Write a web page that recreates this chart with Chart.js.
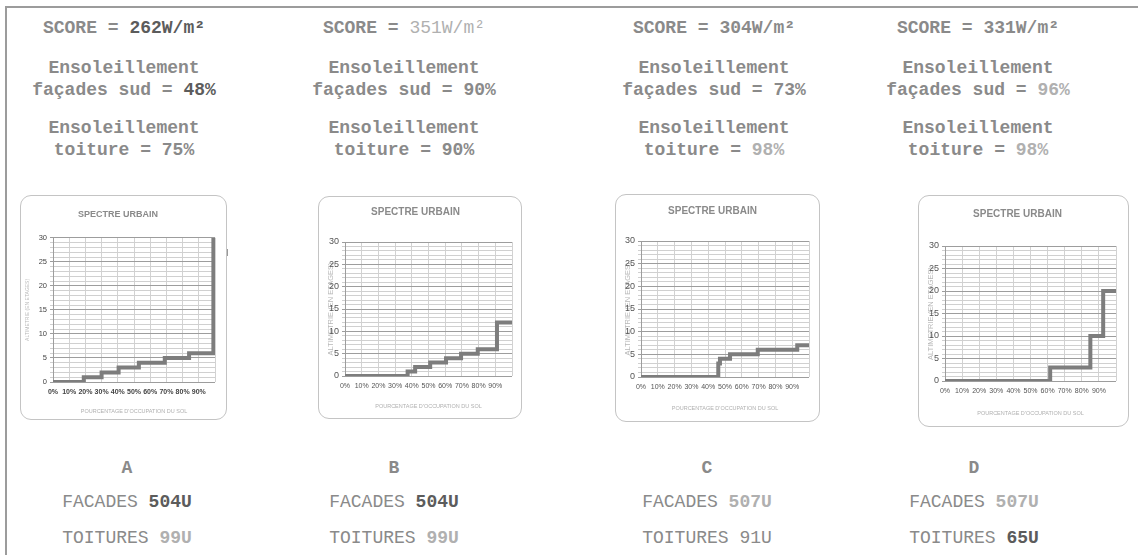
<!DOCTYPE html>
<html>
<head>
<meta charset="utf-8">
<script src="https://cdn.jsdelivr.net/npm/chart.js@4.4.1/dist/chart.umd.min.js"></script>
<style>
  body { margin: 0; width: 1138px; height: 555px; position: relative; background: #fff; overflow: hidden; }
  #frame { position: absolute; left: 5px; top: 6px; right: -3px; bottom: -3px; border-left: 2px solid #9c9c9c; border-top: 2px solid #9c9c9c; }
  .txt { position: absolute; width: 400px; text-align: center; line-height: 20px; height: 20px;
         font-family: "Liberation Mono", "Courier New", monospace; font-size: 18px; color: #8a8a8a; white-space: pre; }
  .b { font-weight: bold; }
  .dark { color: #5c5c5c; }
  .mid { color: #8a8a8a; }
  .light { color: #b0b0b0; }
  .box { position: absolute; border: 1px solid #c4c4c4; border-radius: 11px; background: #fff; }
  .box canvas { position: absolute; left: 0; top: 0; }
</style>
</head>
<body>
<div id="frame"></div>
<div style="position:absolute;left:227px;top:249px;width:1px;height:7px;background:#999"></div>

<div class="box" id="boxA" style="left:20px;top:195px;width:205px;height:223px"><canvas id="chartA"></canvas></div>
<div class="box" id="boxB" style="left:318px;top:196px;width:202px;height:221px"><canvas id="chartB"></canvas></div>
<div class="box" id="boxC" style="left:615px;top:194px;width:203px;height:226px"><canvas id="chartC"></canvas></div>
<div class="box" id="boxD" style="left:918px;top:195px;width:209px;height:230px"><canvas id="chartD"></canvas></div>

<script>
// panel values
const panels = ["A", "B", "C", "D"];
const scores = [262, 351, 304, 331];
const facadeSun = [48, 90, 73, 96];
const roofSun = [75, 90, 98, 98];
const facadeUnits = [504, 504, 507, 507];
const roofUnits = [99, 99, 91, 65];

// urban spectrum: occupation (%) where each height level (floors) starts
const occA = [0, 19, 30, 40.5, 53, 69, 84, 99];
const hA = [0, 1, 2, 3, 4, 5, 6, 30];
const occB = [0, 37.5, 42, 51, 60.5, 69.5, 79.5, 91, 100];
const hB = [0, 1, 2, 3, 4, 5, 6, 12, 12];
const occC = [0, 46, 47, 53, 69.5, 93, 100];
const hC = [0, 3, 4, 5, 6, 7, 7];
const occD = [0, 61.5, 85, 92.5, 100];
const hD = [0, 3, 10, 20, 20];

const yTicks = [0, 5, 10, 15, 20, 25, 30];
const xTicks = [0, 10, 20, 30, 40, 50, 60, 70, 80, 90];

// text emphasis (style only)
const scoreTone = ["dark b", "light", "mid b", "mid b"];
const facadeTone = ["dark b", "mid b", "mid b", "light b"];
const roofTone = ["mid b", "mid b", "light b", "light b"];
const unitsTone = ["dark b", "dark b", "light b", "light b"];
const roofUnitsTone = ["light b", "light b", "mid", "dark b"];

const topX = [124, 404, 714, 978];
const botX = [127, 394, 707, 974];

function line(cx, cy, html) {
    let d = document.createElement("div");
    d.className = "txt";
    d.style.left = (cx - 200) + "px";
    d.style.top = (cy - 10) + "px";
    d.innerHTML = html;
    document.body.appendChild(d);
}

panels.forEach((p, i) => {
    line(topX[i], 28, `<span class="b">SCORE = </span><span class="${scoreTone[i]}">${scores[i]}W/m²</span>`);
    line(topX[i], 68, `<span class="b">Ensoleillement</span>`);
    line(topX[i], 90, `<span class="b">façades sud = </span><span class="${facadeTone[i]}">${facadeSun[i]}%</span>`);
    line(topX[i], 128, `<span class="b">Ensoleillement</span>`);
    line(topX[i], 150, `<span class="b">toiture = </span><span class="${roofTone[i]}">${roofSun[i]}%</span>`);
    line(botX[i], 468, `<span class="b">${p}</span>`);
    line(botX[i], 502, `FACADES <span class="${unitsTone[i]}">${facadeUnits[i]}U</span>`);
    line(botX[i], 538, `TOITURES <span class="${roofUnitsTone[i]}">${roofUnits[i]}U</span>`);
});

function spectre(id, occ, h, lay) {
    let pts = occ.map((x, k) => ({ x: x, y: h[k] }));
    let fam = lay.narrow ? "'Liberation Sans Narrow', 'Liberation Sans', Arial" : "'Liberation Sans', Arial";
    new Chart(document.getElementById(id), {
        type: "line",
        data: {
            datasets: [{
                data: pts,
                stepped: "before",
                borderColor: "#7d7d7d",
                borderWidth: 4,
                pointRadius: 0,
                fill: false
            }]
        },
        options: {
            responsive: true,
            maintainAspectRatio: false,
            animation: false,
            layout: { padding: { left: 0, right: lay.right, top: 0, bottom: 0 } },
            plugins: {
                legend: { display: false },
                tooltip: { enabled: false },
                title: {
                    display: true,
                    text: "SPECTRE URBAIN",
                    color: "#8a8a8a",
                    font: { family: fam, size: lay.titleSize, weight: "bold" },
                    padding: { top: lay.titleTop, bottom: lay.titleBottom }
                }
            },
            scales: {
                x: {
                    type: "linear",
                    min: 0,
                    max: 100,
                    afterBuildTicks: s => { s.ticks = xTicks.concat([100]).map(v => ({ value: v })); },
                    afterFit: s => { s.height = lay.bottom; },
                    ticks: {
                        autoSkip: false,
                        maxRotation: 0,
                        padding: lay.xPad,
                        color: lay.xColor,
                        font: { family: fam, size: lay.xSize, weight: lay.xWeight },
                        callback: v => v === 100 ? "" : v + "%"
                    },
                    grid: { color: "#d2d2d2", lineWidth: 1, tickLength: 0 },
                    border: { display: false },
                    title: {
                        display: true,
                        text: "POURCENTAGE D'OCCUPATION DU SOL",
                        color: "#b0b0b0",
                        font: { family: fam, size: 5.5 },
                        padding: { top: 4, bottom: lay.xTitleBottom }
                    }
                },
                y: {
                    min: 0,
                    max: 30,
                    afterBuildTicks: s => {
                        let t = [];
                        for (let v = 0; v <= 30; v++) t.push({ value: v });
                        s.ticks = t;
                    },
                    afterFit: s => { s.width = lay.left; },
                    ticks: {
                        autoSkip: false,
                        padding: 3,
                        color: lay.yColor,
                        font: { family: fam, size: lay.ySize },
                        callback: v => yTicks.includes(v) ? String(v) : ""
                    },
                    grid: {
                        color: c => c.tick && c.tick.value % 5 === 0 ? "#9d9d9d" : "#d0d0d0",
                        lineWidth: 1,
                        tickLength: 3
                    },
                    border: { display: true, color: "#9d9d9d" },
                    title: {
                        display: true,
                        text: "ALTIMETRIE (EN ETAGES)",
                        color: "#b8b8b8",
                        font: { family: fam, size: lay.yTitleSize },
                        padding: { top: lay.yTitleTop, bottom: 0 }
                    }
                }
            }
        }
    });
}

spectre("chartA", occA, hA, { narrow: false, left: 32, right: 11, bottom: 37, titleSize: 9, titleTop: 13, titleBottom: 18,
    xPad: 6, xSize: 7, xWeight: "bold", xColor: "#444", xTitleBottom: 4, yColor: "#444", ySize: 7.5, yTitleSize: 5, yTitleTop: 4 });
spectre("chartB", occB, hB, { narrow: true, left: 26, right: 9, bottom: 42, titleSize: 10, titleTop: 9, titleBottom: 24,
    xPad: 6, xSize: 7, xWeight: "normal", xColor: "#555", xTitleBottom: 8, yColor: "#555", ySize: 9, yTitleSize: 7.5, yTitleTop: 7 });
spectre("chartC", occC, hC, { narrow: true, left: 25, right: 10, bottom: 44, titleSize: 10, titleTop: 10, titleBottom: 24,
    xPad: 6, xSize: 7, xWeight: "normal", xColor: "#555", xTitleBottom: 9, yColor: "#555", ySize: 9, yTitleSize: 7.5, yTitleTop: 7 });
spectre("chartD", occD, hD, { narrow: true, left: 26, right: 12, bottom: 45, titleSize: 10, titleTop: 12, titleBottom: 26,
    xPad: 6, xSize: 7, xWeight: "normal", xColor: "#555", xTitleBottom: 9, yColor: "#555", ySize: 9, yTitleSize: 7.5, yTitleTop: 7 });
</script>
</body>
</html>
